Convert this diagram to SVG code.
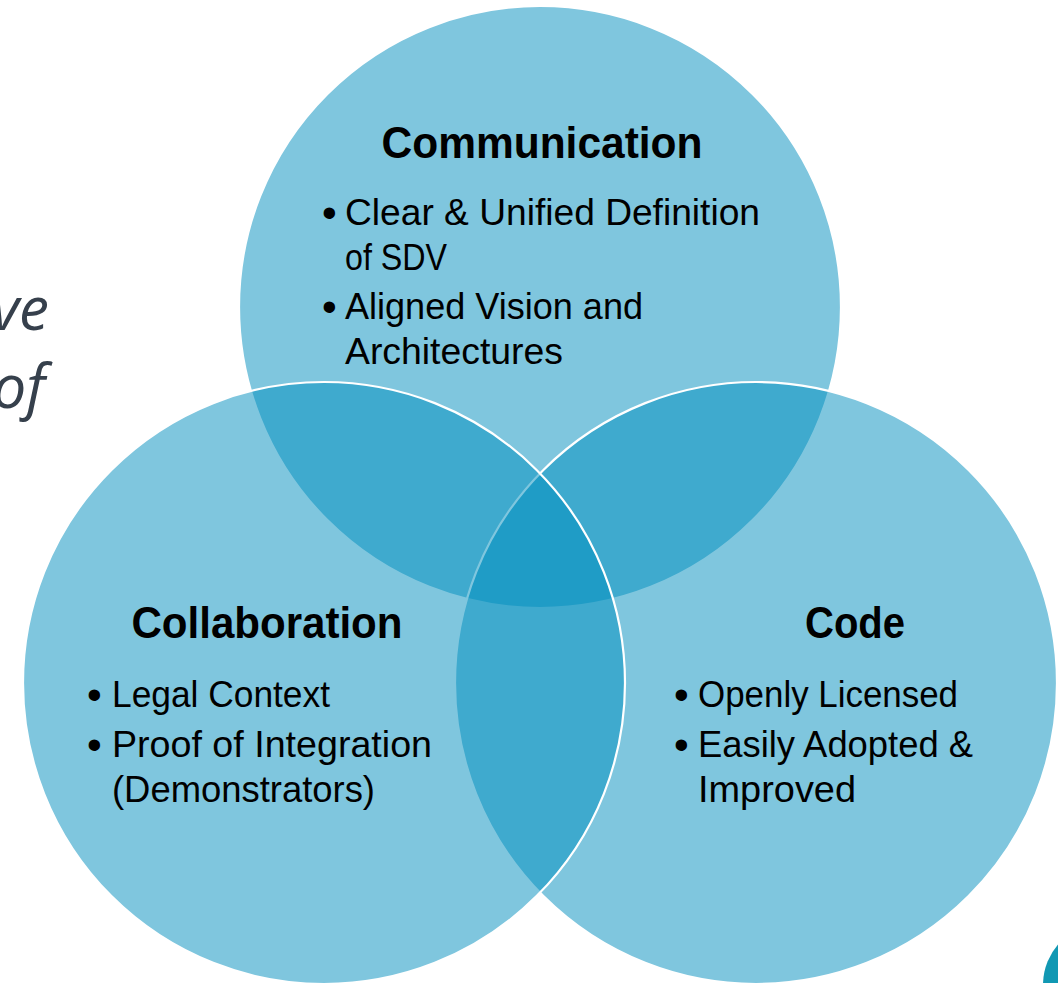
<svg xmlns="http://www.w3.org/2000/svg" width="1058" height="983" viewBox="0 0 1058 983">
<style>
.circ{fill:#008DBD;fill-opacity:0.5;stroke:#FFFFFF;stroke-width:2.2}
.head{font-family:"Liberation Sans",Arial,sans-serif;font-weight:bold;font-size:44px;fill:#000;text-anchor:middle}
.body{font-family:"Liberation Sans",Arial,sans-serif;font-size:36px;fill:#000}
.bul{font-family:"Liberation Sans",Arial,sans-serif;font-size:42px;fill:#000}
.side{font-family:"Open Sans","Liberation Sans",sans-serif;font-style:italic;font-size:60px;fill:#36404C;text-anchor:end}
</style>
<rect x="0" y="0" width="1058" height="983" fill="#FFFFFF"/>
<g id="side-text">
<text class="side" x="49" y="330">ve</text>
<text class="side" x="45" y="408">of</text>
</g>
<circle id="corner-shape" cx="1105" cy="985" r="62" fill="#1198B3"/>
<g id="node-communication">
<circle class="circ" cx="540" cy="307" r="301"/>
<text class="head" x="542" y="158" textLength="321" lengthAdjust="spacingAndGlyphs">Communication</text>
<text class="bul" x="322" y="227">•</text>
<text class="body" x="345" y="225" textLength="415" lengthAdjust="spacingAndGlyphs">Clear &amp; Unified Definition</text>
<text class="body" x="345" y="270" textLength="102" lengthAdjust="spacingAndGlyphs">of SDV</text>
<text class="bul" x="322" y="321">•</text>
<text class="body" x="345" y="319" textLength="298" lengthAdjust="spacingAndGlyphs">Aligned Vision and</text>
<text class="body" x="345" y="364" textLength="218" lengthAdjust="spacingAndGlyphs">Architectures</text>
</g>
<g id="node-code">
<circle class="circ" cx="756" cy="683" r="301"/>
<text class="head" x="855" y="638" textLength="100" lengthAdjust="spacingAndGlyphs">Code</text>
<text class="bul" x="674" y="709">•</text>
<text class="body" x="698" y="707" textLength="260" lengthAdjust="spacingAndGlyphs">Openly Licensed</text>
<text class="bul" x="674" y="759">•</text>
<text class="body" x="698" y="757" textLength="275" lengthAdjust="spacingAndGlyphs">Easily Adopted &amp;</text>
<text class="body" x="698" y="802" textLength="158" lengthAdjust="spacingAndGlyphs">Improved</text>
</g>
<g id="node-collaboration">
<circle class="circ" cx="324" cy="683" r="301"/>
<text class="head" x="267" y="638" textLength="271" lengthAdjust="spacingAndGlyphs">Collaboration</text>
<text class="bul" x="87" y="709">•</text>
<text class="body" x="112" y="707" textLength="218" lengthAdjust="spacingAndGlyphs">Legal Context</text>
<text class="bul" x="87" y="759">•</text>
<text class="body" x="112" y="757" textLength="320" lengthAdjust="spacingAndGlyphs">Proof of Integration</text>
<text class="body" x="112" y="802" textLength="263" lengthAdjust="spacingAndGlyphs">(Demonstrators)</text>
</g>
<g id="connectors"></g>
</svg>
